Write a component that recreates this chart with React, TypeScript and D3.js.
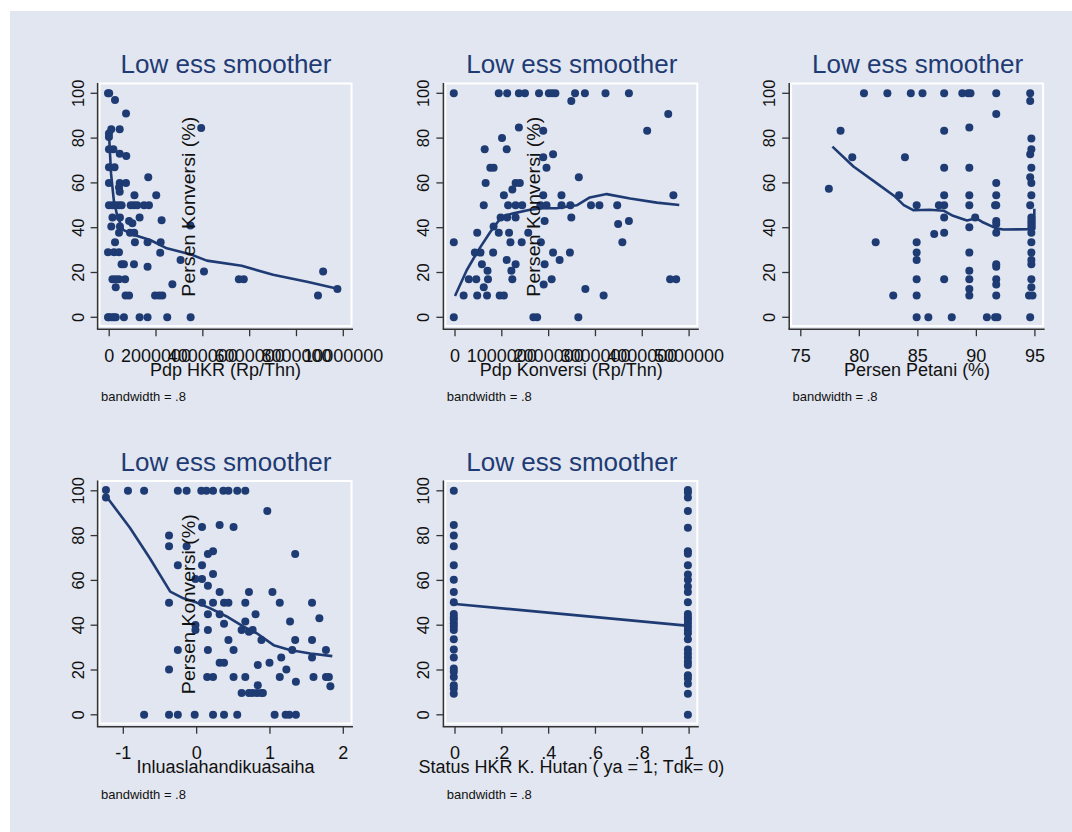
import * as d3 from "d3";

// lowess panels, y = Persen Konversi (%)
const yTicks = [0, 20, 40, 60, 80, 100];

// panel 1: Pdp HKR (Rp/Thn)
const hkrTicks = [0, 2000000, 4000000, 6000000, 8000000, 10000000];
const hkrPoints: [number, number][] = [
  [0, 100], [50000, 100], [300000, 97], [770000, 91], [40000, 82], [140000, 84], [500000, 84],
  [40000, 80.5], [40000, 75], [230000, 75], [500000, 73], [780000, 72], [40000, 67], [280000, 67],
  [40000, 60], [470000, 58], [500000, 60], [770000, 60], [500000, 56], [1130000, 54.5],
  [2060000, 54.5], [1720000, 62.5],
  [40000, 50], [190000, 50], [330000, 50], [470000, 50], [580000, 50], [970000, 50],
  [1110000, 50], [1250000, 50], [1540000, 50], [1750000, 50],
  [190000, 44.6], [510000, 44.6], [1350000, 44.6], [900000, 43], [1040000, 42], [2290000, 43.3],
  [140000, 40.5], [510000, 40.5], [940000, 37.8], [1120000, 37.8], [470000, 37.8],
  [300000, 33.5], [1150000, 33.5], [1690000, 33.5], [2250000, 33.5], [3520000, 41],
  [0, 29], [260000, 29], [470000, 29], [2230000, 28.8],
  [580000, 23.7], [680000, 23.7], [1110000, 23.7], [1690000, 22.6],
  [190000, 17], [330000, 17], [470000, 17], [730000, 17], [330000, 13.4],
  [750000, 9.7], [900000, 9.7], [2010000, 9.7], [2180000, 9.7], [2320000, 9.7],
  [2750000, 14.7], [3100000, 25.6], [4100000, 20.4], [5590000, 17], [5800000, 17], [3980000, 84.5],
  [8970000, 9.7], [9190000, 20.4], [9800000, 12.6],
  [0, 0], [40000, 0], [160000, 0], [260000, 0], [330000, 0], [680000, 0], [1350000, 0],
  [1690000, 0], [2530000, 0], [3530000, 0],
];
const hkrLowess: [number, number][] = [
  [0, 80], [80000, 64], [200000, 52], [350000, 45], [600000, 39], [1000000, 37], [1750000, 34.5],
  [2460000, 30.8], [3500000, 28], [4170000, 25.3], [5660000, 23], [7000000, 19], [8500000, 15.8],
  [9800000, 12.6],
];

// panel 2: Pdp Konversi (Rp/Thn)
const konvTicks = [0, 1000000, 2000000, 3000000, 4000000, 5000000];
const konvPoints: [number, number][] = [
  [0, 100], [960000, 100], [1140000, 100], [1390000, 100], [1520000, 100], [1820000, 100],
  [2030000, 100], [2100000, 100], [2170000, 100], [2590000, 100], [2800000, 100], [3240000, 100],
  [3740000, 100],
  [2510000, 96.6], [4580000, 90.8], [1390000, 84.7], [1910000, 83.3], [4130000, 83.3], [1030000, 80],
  [660000, 75], [1130000, 75], [1910000, 71.4], [2120000, 72.8], [780000, 66.8], [850000, 66.8],
  [1980000, 66.8], [2670000, 62.5], [680000, 60], [1320000, 60], [1410000, 60], [1250000, 57],
  [1070000, 54.5], [1910000, 54.5], [2300000, 54.5], [4690000, 54.5],
  [640000, 50], [1160000, 50], [1320000, 50], [1460000, 50], [1850000, 50], [1980000, 50],
  [2300000, 50], [2490000, 50], [2930000, 50], [3110000, 50], [3490000, 50],
  [1000000, 44.6], [1140000, 44.6], [1320000, 44.6], [2510000, 44.6], [1940000, 43], [3740000, 43],
  [850000, 40.5], [3510000, 41.7], [500000, 37.8], [960000, 37.8], [1180000, 37.8], [1590000, 37.8],
  [0, 33.5], [1210000, 33.5], [1450000, 33.5], [1860000, 33.5], [3600000, 33.5],
  [450000, 28.9], [570000, 28.9], [840000, 28.9], [2120000, 28.9], [2480000, 28.9],
  [1130000, 25.6], [1320000, 23.7], [1940000, 23.7], [2260000, 25.6], [600000, 23.7],
  [720000, 20.8], [1230000, 20.8],
  [320000, 17], [480000, 17], [730000, 17], [1250000, 17], [2090000, 17], [4620000, 17], [4750000, 17],
  [640000, 13.4], [1920000, 14.6], [2810000, 12.6],
  [210000, 9.7], [500000, 9.7], [710000, 9.7], [980000, 9.7], [1070000, 9.7], [3200000, 9.7],
  [0, 0], [1700000, 0], [1780000, 0], [2660000, 0],
];
const konvLowess: [number, number][] = [
  [0, 9.5], [250000, 21], [500000, 30], [750000, 38], [1000000, 45], [1250000, 46.4],
  [1600000, 48], [1890000, 48.7], [2170000, 48.7], [2600000, 50], [2880000, 53.5], [3240000, 55],
  [3740000, 53], [4310000, 51.2], [4790000, 50.1],
];

// panel 3: Persen Petani (%)
const petaniTicks = [75, 80, 85, 90, 95];
const petaniPoints: [number, number][] = [
  [80.5, 100], [82.5, 100], [84.5, 100], [85.5, 100], [87.35, 100], [88.9, 100], [89.4, 100],
  [89.6, 100], [91.8, 100], [94.7, 100],
  [94.7, 96.6], [91.8, 90.8], [78.5, 83.3], [87.35, 83.3], [89.5, 84.7], [94.8, 79.8], [79.5, 71.4],
  [84, 71.4], [94.8, 75], [94.7, 72.8], [87.35, 66.8], [89.5, 66.8], [94.8, 66.8], [77.5, 57.4],
  [91.8, 60], [94.7, 62.5], [94.8, 60], [83.5, 54.5], [87.35, 54.5], [89.5, 54.5], [91.8, 54.5],
  [94.8, 54.5],
  [85, 50], [86.9, 50], [87.35, 50], [89.5, 50], [91.7, 50], [91.8, 50], [94.7, 50],
  [87.35, 44.6], [90, 44.6], [89.5, 40.2], [91.8, 43], [91.8, 41.7], [94.8, 44.6], [94.8, 43],
  [94.8, 41.7], [94.8, 40.2], [94.8, 37.8], [86.5, 37.2], [87.35, 37.8], [91.8, 37.8],
  [81.5, 33.5], [85, 33.5], [94.8, 33.5], [85, 28.9], [89.5, 28.9], [94.8, 28.9], [85, 25.6],
  [94.8, 25.6], [94.8, 23.7], [89.5, 20.8], [91.8, 23.7], [91.8, 22.6],
  [85, 17], [87.35, 17], [89.5, 17], [91.8, 17], [94.8, 17], [89.5, 12.6], [91.8, 14.6], [94.8, 13.4],
  [83, 9.7], [85, 9.7], [89.5, 9.7], [91.8, 9.7], [94.6, 9.7], [94.9, 9.7],
  [85, 0], [86, 0], [88, 0], [91, 0], [91.7, 0], [91.9, 0], [94.7, 0],
];
const petaniLowess: [number, number][] = [
  [77.7, 76.2], [79.5, 67.3], [81.5, 59.8], [83.05, 53.9], [83.8, 50.1], [84.6, 47.8], [86, 48],
  [87.2, 47.6], [88, 45.3], [89.2, 43.2], [90, 44.2], [90.6, 42.3], [91.7, 39.7], [92.3, 39.2],
  [94.7, 39.3], [94.95, 39.5], [94.95, 48.5],
];

// panel 4: Inluaslahandikuasaiha
const luasTicks = [-1, 0, 1, 2];
const luasPoints: [number, number][] = [
  [-1.22, 100.4], [-1.22, 97],
  [-0.92, 100], [-0.7, 100], [-0.24, 100], [-0.12, 100], [0.08, 100], [0.15, 100], [0.24, 100],
  [0.38, 100], [0.45, 100], [0.57, 100], [0.68, 100],
  [0.98, 91], [0.09, 83.8], [0.33, 84.7], [0.52, 83.8], [-0.36, 80], [-0.36, 75.3], [-0.12, 75.3],
  [0.17, 71.8], [0.24, 73], [1.36, 71.8], [-0.24, 66.8], [0.09, 66.8], [0.24, 62.9], [0, 60.6],
  [0.09, 60.6], [0.17, 57.6], [0.33, 54.8], [0.73, 54.8], [1.05, 54.8],
  [-0.36, 50], [0.09, 50], [0.24, 50], [0.39, 50], [0.45, 50], [0.68, 50], [1.15, 50], [1.59, 50],
  [0.17, 44.9], [0.33, 44.9], [0.82, 44.9], [1.69, 43.1], [1.29, 41.6], [0.68, 41.6], [0, 40.1],
  [0.39, 40.6], [0, 37.9], [0.17, 37.9], [0.63, 37.9], [0.73, 37.1], [0.78, 37.9],
  [0.45, 33.4], [0.9, 33.4], [1.36, 33.4], [1.59, 33.4],
  [-0.24, 28.9], [0.17, 28.9], [0.52, 28.9], [1.32, 28.9], [1.78, 28.9],
  [1.17, 25.6], [1.59, 25.6], [0.33, 23.2], [0.39, 23.2], [1.01, 23.2], [0.85, 22.2],
  [-0.36, 20.2], [1.24, 20.2],
  [0.16, 16.9], [0.24, 16.9], [0.52, 16.9], [0.68, 16.9], [1.15, 16.9], [1.61, 16.9], [1.78, 16.9],
  [1.82, 16.9], [0.85, 13.2], [1.37, 14.7], [1.84, 12.7],
  [0.63, 9.7], [0.73, 9.7], [0.78, 9.7], [0.84, 9.7], [0.9, 9.7], [0.92, 9.7],
  [-0.7, 0], [-0.36, 0], [-0.24, 0], [-0.01, 0], [0.24, 0], [0.39, 0], [0.57, 0], [1.08, 0],
  [1.23, 0], [1.28, 0], [1.37, 0],
];
const luasLowess: [number, number][] = [
  [-1.22, 97], [-0.91, 83.5], [-0.64, 70], [-0.36, 55], [-0.18, 52], [0, 50.1], [0.18, 47.6],
  [0.41, 43.9], [0.64, 39.4], [0.82, 36.4], [1.05, 31.1], [1.27, 28.9], [1.55, 27.4], [1.85, 26.2],
];

// panel 5: Status HKR K. Hutan (ya = 1; Tdk = 0)
const statusTicks = [0, 0.2, 0.4, 0.6, 0.8, 1];
const statusTdkY = [
  100, 84.7, 80, 75.3, 66.8, 60.3, 54.8, 50.3, 45, 43.6, 42.4, 40.9, 39.4, 37.9, 33.7, 29.2,
  25.6, 20.7, 19.2, 16.9, 13.2, 11.7, 9.4,
];
const statusYaY = [
  100.4, 99.2, 97, 91, 83.5, 73, 71.9, 66.8, 62.6, 60.3, 57.3, 54.8, 50.3, 45, 43.6, 42.4, 40.9,
  39.4, 37.9, 36.4, 33.7, 29.2, 27.4, 25.6, 23.7, 22.2, 17.7, 16.2, 13.9, 9.4, 0,
];
const statusLowess: [number, number][] = [[0, 49.5], [1, 39.7]];

const BG = "#e1e6f0";
const NAVY = "#1f3b73";
const COL_W = 345.8;
const ROW_H = 397.5;

type PanelCfg = {
  col: number;
  row: number;
  ticks: number[];
  domain: [number, number];
  range: [number, number];
  fmt: (v: number) => string;
  xTitle: string;
  points: [number, number][];
  lowess: [number, number][];
  yTitle: boolean;
};

const intFmt = (v: number) => String(v);
const decFmt = (v: number) => (v === 0 || v === 1 ? String(v) : String(v).replace(/^0/, ""));

const panels: PanelCfg[] = [
  { col: 0, row: 0, ticks: hkrTicks, domain: [0, 10000000], range: [109.2, 343.3], fmt: intFmt,
    xTitle: "Pdp HKR (Rp/Thn)", points: hkrPoints, lowess: hkrLowess, yTitle: true },
  { col: 1, row: 0, ticks: konvTicks, domain: [0, 5000000], range: [109.2, 343.3], fmt: intFmt,
    xTitle: "Pdp Konversi (Rp/Thn)", points: konvPoints, lowess: konvLowess, yTitle: true },
  { col: 2, row: 0, ticks: petaniTicks, domain: [75, 95], range: [109.2, 343.3], fmt: intFmt,
    xTitle: "Persen Petani (%)", points: petaniPoints, lowess: petaniLowess, yTitle: false },
  { col: 0, row: 1, ticks: luasTicks, domain: [-1, 2], range: [123.3, 343.3], fmt: intFmt,
    xTitle: "Inluaslahandikuasaiha", points: luasPoints, lowess: luasLowess, yTitle: true },
  { col: 1, row: 1, ticks: statusTicks, domain: [0, 1], range: [109.2, 343.3], fmt: decFmt,
    xTitle: "Status HKR K. Hutan ( ya = 1; Tdk= 0)",
    points: [
      ...statusTdkY.map((v) => [0, v] as [number, number]),
      ...statusYaY.map((v) => [1, v] as [number, number]),
    ],
    lowess: statusLowess, yTitle: false },
];

const FONT = "'Liberation Sans', Arial, Helvetica, sans-serif";

function Panel({ p }: { p: PanelCfg }) {
  const x = d3.scaleLinear().domain(p.domain).range(p.range);
  const y = d3.scaleLinear().domain([0, 100]).range([317.3, 93.3]);
  const line = d3
    .line<[number, number]>()
    .x((d) => x(d[0]))
    .y((d) => y(d[1]));
  const left = 97.6;
  const bottom = 329.2;
  return (
    <g transform={`translate(${p.col * COL_W}, ${p.row * ROW_H})`}>
      {/* plot region outline */}
      <rect x={99.5} y={83.5} width={252} height={242.5} fill="none" stroke="#fff" strokeWidth={2} />
      {/* axes */}
      <line x1={left} x2={left} y1={83} y2={bottom} stroke="#333" strokeWidth={1.5} />
      <line x1={left - 0.7} x2={353} y1={bottom} y2={bottom} stroke="#333" strokeWidth={1.5} />
      {yTicks.map((t) => (
        <g key={"y" + t}>
          <line x1={left} x2={left - 7} y1={y(t)} y2={y(t)} stroke="#333" strokeWidth={1.3} />
          <text
            transform={`translate(83.5, ${y(t)}) rotate(-90)`}
            textAnchor="middle"
            fontSize={16.5}
            fill="#111"
          >
            {t}
          </text>
        </g>
      ))}
      {p.ticks.map((t) => (
        <g key={"x" + t}>
          <line x1={x(t)} x2={x(t)} y1={bottom} y2={bottom + 7} stroke="#333" strokeWidth={1.3} />
          <text x={x(t)} y={361.5} textAnchor="middle" fontSize={18} fill="#111">
            {p.fmt(t)}
          </text>
        </g>
      ))}
      <text x={225.5} y={375.5} textAnchor="middle" fontSize={18} fill="#111">
        {p.xTitle}
      </text>
      <text x={101} y={401} fontSize={13} fill="#111">
        bandwidth = .8
      </text>
      <text x={226} y={73.3} textAnchor="middle" fontSize={26} fill={NAVY}>
        Low ess smoother
      </text>
      {p.points.map((d, i) => (
        <circle key={i} cx={x(d[0]) - 1.2} cy={y(d[1])} r={4} fill={NAVY} />
      ))}
      <path d={line(p.lowess) ?? ""} fill="none" stroke={NAVY} strokeWidth={2.6} strokeLinejoin="round" />
      {p.yTitle && (
        <text
          transform="translate(194.5, 206.7) rotate(-90)"
          textAnchor="middle"
          fontSize={18}
          textLength={180}
          lengthAdjust="spacingAndGlyphs"
          fill="#111"
        >
          Persen Konversi (%)
        </text>
      )}
    </g>
  );
}

export default function App() {
  return (
    <svg
      width={1072}
      height={832}
      style={{ position: "absolute", left: 0, top: 0, fontFamily: FONT }}
    >
      <rect x={0} y={0} width={1072} height={832} fill="#fff" />
      <rect x={10} y={11} width={1062} height={821} fill={BG} />
      {panels.map((p, i) => (
        <Panel key={i} p={p} />
      ))}
    </svg>
  );
}
